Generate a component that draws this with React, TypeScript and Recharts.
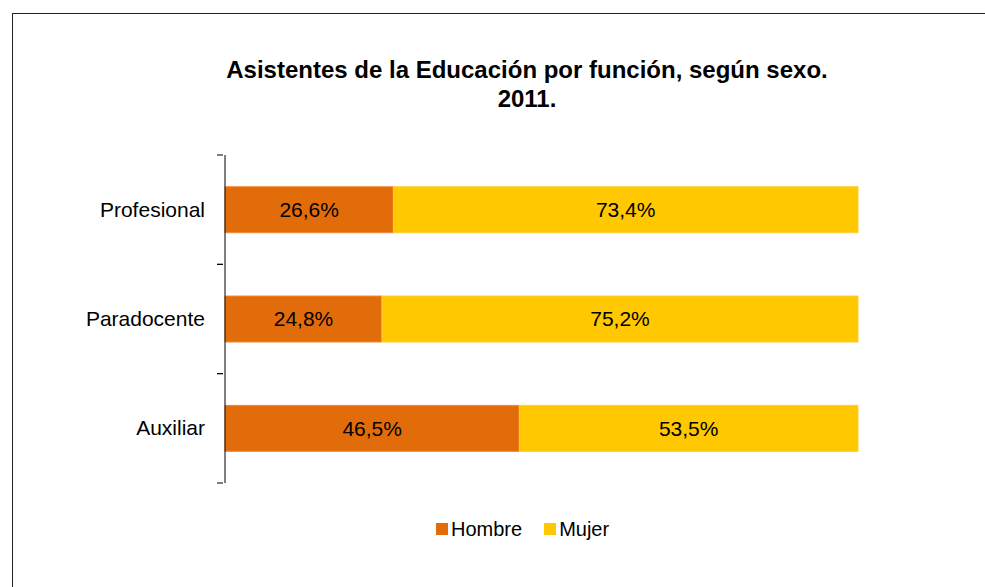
import React from 'react';
import { BarChart, Bar, XAxis, YAxis, LabelList } from 'recharts';

const categories = ['Profesional', 'Paradocente', 'Auxiliar'];
const hombre = [26.6, 24.8, 46.5];
const mujer = [73.4, 75.2, 53.5];
const seriesNames = ['Hombre', 'Mujer'];
const titleLines = ['Asistentes de la Educación por función, según sexo.', '2011.'];

const data = categories.map((c, i) => ({ name: c, Hombre: hombre[i], Mujer: mujer[i] }));

const COLORS: Record<string, string> = { Hombre: '#E36C0A', Mujer: '#FFC800' };
const STROKES: Record<string, string> = { Hombre: '#F08A3A', Mujer: '#FFCF33' };
const FONT = '"Liberation Sans", Arial, sans-serif';

const fmt = (v: any) => `${Number(v).toFixed(1).replace('.', ',')}%`;

const YTick = (props: any) => {
  const { x, y, payload } = props;
  const half = payload && payload.offset ? payload.offset : 0;
  return (
    <g>
      <line x1={x} x2={x + 6} y1={y - half} y2={y - half} stroke="#000" strokeWidth={1} />
      <line x1={x} x2={x + 6} y1={y + half} y2={y + half} stroke="#000" strokeWidth={1} />
      <text x={x - 12} y={y} dy={7} textAnchor="end" fontSize={21} fontFamily={FONT} fill="#000">
        {payload.value}
      </text>
    </g>
  );
};

export default function App() {
  return (
    <div style={{ position: 'absolute', left: 0, top: 0, width: 985, height: 587, overflow: 'hidden', background: '#fff' }}>
      <div style={{ position: 'absolute', left: 12, top: 13, width: 1100, height: 700, border: '1px solid #222', boxSizing: 'border-box' }} />
      <div style={{ position: 'absolute', left: 177, width: 700, top: 55, textAlign: 'center', fontFamily: FONT, fontWeight: 'bold', fontSize: 24, lineHeight: '29px', color: '#000' }}>
        {titleLines.map((t, i) => (
          <div key={i}>{t}</div>
        ))}
      </div>
      <div style={{ position: 'absolute', left: 0, top: 0 }}>
        <BarChart
          width={985}
          height={587}
          data={data}
          layout="vertical"
          margin={{ top: 155, right: 127, bottom: 104, left: 0 }}
          barCategoryGap="29%"
        >
          <XAxis type="number" domain={[0, 100]} hide />
          <YAxis
            type="category"
            dataKey="name"
            width={225}
            axisLine={{ stroke: '#000' }}
            tickLine={false}
            tick={<YTick />}
            interval={0}
          />
          {seriesNames.map((s) => (
            <Bar
              key={s}
              dataKey={s}
              stackId="a"
              fill={COLORS[s]}
              stroke={STROKES[s]}
              strokeWidth={1}
              isAnimationActive={false}
            >
              <LabelList dataKey={s} position="center" formatter={fmt} fill="#000" fontSize={21} fontFamily={FONT} />
            </Bar>
          ))}
        </BarChart>
      </div>
      <div style={{ position: 'absolute', left: 436, top: 517, display: 'flex', fontFamily: FONT, fontSize: 20, lineHeight: '24px', color: '#000' }}>
        {seriesNames.map((s, i) => (
          <div key={s} style={{ display: 'flex', alignItems: 'center', marginRight: i === 0 ? 22 : 0 }}>
            <span style={{ display: 'inline-block', width: 12, height: 12, background: COLORS[s], marginRight: 3 }} />
            <span>{s}</span>
          </div>
        ))}
      </div>
    </div>
  );
}
